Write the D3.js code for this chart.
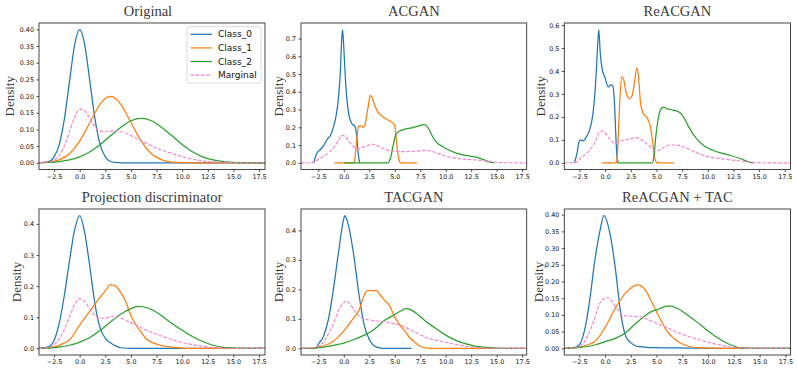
<!DOCTYPE html>
<html>
<head>
<meta charset="utf-8">
<script src="https://cdn.jsdelivr.net/npm/d3@7/dist/d3.min.js"></script>
<style>
  html, body { margin: 0; padding: 0; background: #fff; }
  svg { display: block; }
</style>
</head>
<body>
<svg id="chart" width="797" height="372"></svg>
<script>
// ---------------- DATA ----------------
const panelTitles = ["Original", "ACGAN", "ReACGAN", "Projection discriminator", "TACGAN", "ReACGAN + TAC"];
const seriesNames = ["Class_0", "Class_1", "Class_2", "Marginal"];
const xTickValues = [-2.5, 0, 2.5, 5, 7.5, 10, 12.5, 15, 17.5];
const yTicksOriginal = [0, 0.05, 0.10, 0.15, 0.20, 0.25, 0.30, 0.35, 0.40];
const yTicksACGAN = [0, 0.1, 0.2, 0.3, 0.4, 0.5, 0.6, 0.7];
const yTicksReACGAN = [0, 0.1, 0.2, 0.3, 0.4, 0.5, 0.6];
const yTicksProjection = [0, 0.1, 0.2, 0.3, 0.4];
const yTicksTACGAN = [0, 0.1, 0.2, 0.3, 0.4];
const yTicksReACGANTAC = [0, 0.05, 0.10, 0.15, 0.20, 0.25, 0.30, 0.35, 0.40];

// Original
const original_class0 = [[-3.95,0.0002],[-3,0.004],[-2.5,0.018],[-2,0.054],[-1.5,0.13],[-1,0.242],[-0.5,0.352],[0,0.399],[0.5,0.352],[1,0.242],[1.5,0.13],[2,0.054],[2.5,0.018],[3,0.004],[3.5,0.001],[4,0],[18.1,0]];
const original_class1 = [[-3.95,0.0005],[-3,0.0022],[-2,0.0088],[-1,0.027],[0,0.065],[0.5,0.092],[1,0.121],[1.5,0.15],[2,0.176],[2.5,0.193],[3,0.1995],[3.5,0.193],[4,0.176],[4.5,0.15],[5,0.121],[5.5,0.092],[6,0.065],[7,0.027],[8,0.0088],[9,0.0022],[10,0.0004],[11,0],[18.1,0]];
const original_class2 = [[-3.95,0.0005],[-3,0.0015],[-2,0.0038],[-1,0.0087],[0,0.018],[1,0.033],[2,0.055],[3,0.081],[4,0.106],[5,0.126],[6,0.133],[7,0.126],[8,0.106],[9,0.081],[10,0.055],[11,0.033],[12,0.018],[13,0.0087],[14,0.0038],[15,0.0015],[16,0.0005],[18.1,0]];
const original_marginal = [[-3.95,0.0005],[-3,0.0027],[-2.5,0.0082],[-2,0.022],[-1.5,0.05],[-1,0.093],[-0.5,0.136],[0,0.161],[0.5,0.156],[1,0.132],[1.5,0.108],[2,0.095],[2.5,0.093],[3,0.095],[3.5,0.096],[4,0.094],[5,0.082],[6,0.066],[7,0.051],[8,0.038],[9,0.028],[10,0.0185],[11,0.011],[12,0.006],[13,0.0029],[14,0.0013],[15,0.0005],[16,0.0002],[18.1,0]];

// ACGAN
const acgan_class0 = [[-2.95,0],[-2.8,0.03],[-2.6,0.058],[-2.3,0.075],[-2,0.095],[-1.6,0.135],[-1.3,0.155],[-1.0,0.205],[-0.8,0.25],[-0.5,0.38],[-0.35,0.5],[-0.2,0.7],[-0.12,0.75],[0,0.65],[0.15,0.48],[0.3,0.36],[0.5,0.27],[0.8,0.22],[1.1,0.205],[1.25,0.16],[1.4,0.06],[1.55,0.005],[1.6,0]];
const acgan_class1 = [[-0.93,0],[1.0,0],[1.1,0.03],[1.25,0.12],[1.45,0.205],[1.6,0.21],[1.9,0.2],[2.1,0.22],[2.4,0.32],[2.6,0.38],[2.75,0.37],[3.0,0.33],[3.3,0.29],[3.7,0.265],[4.3,0.243],[4.8,0.225],[5.0,0.21],[5.2,0.1],[5.4,0.02],[5.6,0],[7.2,0]];
const acgan_class2 = [[0,0],[4.3,0],[4.6,0.03],[4.85,0.1],[5.05,0.15],[5.3,0.172],[5.8,0.186],[6.5,0.195],[7.2,0.205],[7.9,0.215],[8.3,0.195],[8.7,0.15],[9.1,0.115],[9.6,0.095],[10.2,0.075],[10.9,0.058],[11.7,0.045],[12.4,0.038],[13,0.032],[13.7,0.018],[14.3,0.005],[14.8,0]];
const acgan_marginal = [[-4.2,0],[-3.2,0.001],[-2.9,0.004],[-2.5,0.02],[-2,0.036],[-1.5,0.058],[-1,0.085],[-0.6,0.12],[-0.2,0.155],[0.1,0.15],[0.5,0.12],[1,0.088],[1.4,0.08],[2,0.09],[2.8,0.105],[3.5,0.09],[4.2,0.073],[5,0.065],[6,0.063],[7,0.065],[8,0.07],[8.6,0.065],[9.3,0.052],[10,0.038],[11,0.026],[12,0.02],[13,0.016],[14,0.01],[15,0.003],[16,0.0005],[17.95,0]];

// ReACGAN
const reacgan_class0 = [[-3,0],[-2.75,0.04],[-2.55,0.09],[-2.4,0.1],[-2.15,0.096],[-1.8,0.115],[-1.5,0.145],[-1.2,0.21],[-0.95,0.33],[-0.78,0.47],[-0.62,0.58],[-0.48,0.48],[-0.3,0.41],[0,0.37],[0.3,0.33],[0.55,0.34],[0.75,0.335],[0.92,0.25],[1.05,0.11],[1.18,0.015],[1.3,0]];
const reacgan_class1 = [[-0.3,0],[1.1,0],[1.2,0.04],[1.3,0.14],[1.45,0.29],[1.63,0.376],[1.82,0.36],[2.05,0.305],[2.35,0.28],[2.6,0.29],[2.86,0.35],[3.09,0.413],[3.25,0.375],[3.45,0.26],[3.7,0.216],[4.1,0.195],[4.4,0.16],[4.6,0.1],[4.8,0.03],[5.0,0.002],[5.2,0],[6.7,0]];
const reacgan_class2 = [[1.2,0],[4.6,0],[4.75,0.028],[4.95,0.12],[5.2,0.2],[5.45,0.235],[5.7,0.243],[6,0.236],[6.6,0.23],[7.3,0.218],[7.7,0.195],[8.1,0.16],[8.9,0.105],[9.7,0.072],[10.5,0.055],[11.35,0.042],[12.2,0.032],[13,0.021],[13.6,0.011],[14.1,0.002],[14.5,0]];
const reacgan_marginal = [[-4,0],[-3,0.001],[-2.7,0.006],[-2.4,0.02],[-2,0.035],[-1.5,0.055],[-1,0.09],[-0.6,0.13],[-0.35,0.14],[0,0.13],[0.5,0.1],[1,0.085],[1.5,0.095],[2,0.1],[2.5,0.105],[3,0.11],[3.5,0.102],[4,0.085],[4.5,0.066],[5,0.052],[5.5,0.062],[6,0.075],[6.5,0.078],[7,0.077],[7.5,0.072],[8,0.062],[9,0.042],[10,0.027],[11,0.019],[12,0.014],[13,0.009],[14,0.004],[15,0.001],[16,0],[18.05,0]];

// Projection discriminator
const proj_class0 = [[-3.95,0.0005],[-3,0.006],[-2.5,0.025],[-2,0.08],[-1.5,0.17],[-1,0.28],[-0.5,0.38],[0,0.427],[0.5,0.37],[1,0.26],[1.5,0.14],[2,0.065],[2.5,0.032],[3,0.018],[3.5,0.008],[4,0.002],[5,0],[18.05,0]];
const proj_class1 = [[-3.95,0],[-3,0.002],[-2.5,0.005],[-1.5,0.017],[-1,0.027],[0,0.075],[1,0.12],[2,0.165],[2.5,0.185],[3,0.205],[3.5,0.2],[4,0.18],[4.5,0.15],[5,0.105],[5.5,0.075],[6,0.052],[6.5,0.03],[7,0.02],[8,0.009],[9,0.004],[10,0.001],[11,0],[18.05,0]];
const proj_class2 = [[-3.95,0],[-3,0.001],[-2,0.004],[-1,0.01],[0,0.02],[1,0.035],[2,0.058],[3,0.085],[4,0.11],[5,0.128],[5.7,0.135],[6.3,0.133],[7,0.125],[8,0.105],[9,0.08],[10,0.058],[11,0.038],[12,0.022],[13,0.01],[14,0.003],[15,0.001],[16,0],[18.05,0]];
const proj_marginal = [[-3.95,0],[-3,0.003],[-2.5,0.012],[-2,0.03],[-1.5,0.06],[-1,0.1],[-0.5,0.14],[0,0.16],[0.5,0.15],[1,0.125],[1.5,0.105],[2,0.097],[2.5,0.097],[3,0.102],[3.5,0.104],[4,0.098],[5,0.083],[6,0.066],[7,0.052],[8,0.039],[9,0.028],[10,0.019],[11,0.012],[12,0.007],[13,0.003],[14,0.001],[15,0],[18.05,0]];

// TACGAN
const tac_class0 = [[-2.7,0],[-2.5,0.014],[-2,0.04],[-1.5,0.1],[-1,0.205],[-0.5,0.33],[0,0.44],[0.1,0.45],[0.5,0.41],[1,0.31],[1.5,0.18],[2,0.08],[2.5,0.03],[3,0.008],[3.5,0.002],[4,0],[6.65,0]];
const tac_class1 = [[-4.2,0],[-3,0.001],[-2.5,0.004],[-1.5,0.015],[-1,0.025],[0,0.059],[1,0.105],[1.5,0.13],[2,0.18],[2.3,0.196],[3.2,0.196],[3.6,0.18],[4,0.163],[4.5,0.145],[5,0.105],[5.5,0.08],[6,0.058],[6.5,0.035],[7,0.02],[7.5,0.007],[8,0.002],[9,0],[17.95,0]];
const tac_class2 = [[-4.2,0],[-3,0.001],[-2,0.004],[-1,0.01],[0,0.018],[1,0.03],[2,0.045],[3,0.065],[4,0.095],[4.5,0.105],[5,0.115],[5.5,0.125],[6.1,0.135],[6.5,0.132],[7,0.122],[8,0.093],[9,0.068],[10,0.045],[11,0.027],[12,0.015],[13,0.007],[14,0.003],[15,0.001],[16,0],[17.95,0]];
const tac_marginal = [[-4.2,0],[-3,0.002],[-2.5,0.008],[-2,0.02],[-1.5,0.05],[-1,0.085],[-0.5,0.13],[0,0.155],[0.2,0.16],[0.5,0.155],[1,0.13],[1.5,0.11],[2,0.1],[3,0.094],[4,0.09],[5,0.083],[6,0.072],[7,0.055],[8,0.038],[9,0.028],[10,0.021],[11,0.013],[12,0.007],[13,0.003],[14,0.001],[15,0],[17.95,0]];

// ReACGAN + TAC
const rtac_class0 = [[-3.95,0],[-3,0.002],[-2.5,0.01],[-2,0.052],[-1.5,0.14],[-1,0.26],[-0.5,0.35],[-0.1,0.397],[0.5,0.34],[1,0.24],[1.5,0.11],[2,0.037],[2.5,0.017],[3,0.007],[3.5,0.005],[4,0.003],[5,0.002],[8,0.001],[12,0],[18.05,0]];
const rtac_class1 = [[-3.95,0],[-2.5,0.003],[-1.5,0.013],[-1,0.02],[0,0.062],[1,0.12],[2,0.166],[2.5,0.18],[3.1,0.19],[3.5,0.187],[4,0.171],[4.5,0.14],[5,0.11],[5.5,0.08],[6,0.052],[6.5,0.035],[7,0.022],[8,0.007],[9,0.002],[10,0.001],[13,0],[18.05,0]];
const rtac_class2 = [[-3.95,0],[-2.5,0.003],[-1,0.01],[0,0.02],[1,0.03],[2,0.047],[3,0.075],[4,0.1],[4.5,0.11],[5,0.115],[6.2,0.127],[7,0.12],[8,0.1],[9,0.077],[10,0.052],[11,0.03],[12,0.013],[12.5,0.007],[13,0.002],[14,0],[18.05,0]];
const rtac_marginal = [[-3.95,0],[-3,0.001],[-2.5,0.005],[-2,0.02],[-1.5,0.05],[-1,0.09],[-0.5,0.135],[0,0.15],[0.2,0.153],[0.5,0.148],[1,0.125],[1.5,0.105],[2,0.097],[3,0.095],[3.5,0.094],[4,0.088],[5,0.075],[6,0.062],[7,0.048],[8,0.037],[9,0.027],[10,0.018],[11,0.011],[12,0.005],[13,0.002],[14,0],[18.05,0]];

// ---------------- LAYOUT / STYLE ----------------
const colors = ["#1f77b4", "#ff7f0e", "#2ca02c", "#f57fca"];
const panels = [
  { title: panelTitles[0], series: [original_class0, original_class1, original_class2, original_marginal], yTicks: yTicksOriginal, fmt: ".2f",
    box: [39, 23, 265, 169.5], xDom: [-3.97, 18.08], yDom: [-0.02, 0.419], titleX: 148, ylabX: 9.5, legend: true },
  { title: panelTitles[1], series: [acgan_class0, acgan_class1, acgan_class2, acgan_marginal], yTicks: yTicksACGAN, fmt: ".1f",
    box: [301, 23, 526.7, 169.5], xDom: [-4.2, 17.95], yDom: [-0.0375, 0.7875], ylabX: 278 },
  { title: panelTitles[2], series: [reacgan_class0, reacgan_class1, reacgan_class2, reacgan_marginal], yTicks: yTicksReACGAN, fmt: ".1f",
    box: [564.3, 23, 790.5, 169.5], xDom: [-3.98, 18.06], yDom: [-0.029, 0.609], ylabX: 540 },
  { title: panelTitles[3], series: [proj_class0, proj_class1, proj_class2, proj_marginal], yTicks: yTicksProjection, fmt: ".1f",
    box: [39, 209, 265, 355], xDom: [-3.97, 18.08], yDom: [-0.0213, 0.448], ylabX: 16 },
  { title: panelTitles[4], series: [tac_class0, tac_class1, tac_class2, tac_marginal], yTicks: yTicksTACGAN, fmt: ".1f",
    box: [301, 209, 526.7, 355], xDom: [-4.2, 17.95], yDom: [-0.0225, 0.4725], ylabX: 278.5 },
  { title: panelTitles[5], series: [rtac_class0, rtac_class1, rtac_class2, rtac_marginal], yTicks: yTicksReACGANTAC, fmt: ".2f",
    box: [564.3, 209, 790.5, 355], xDom: [-3.95, 18.0], yDom: [-0.0199, 0.417], ylabX: 538 }
];

const svg = d3.select("#chart");
const defs = svg.append("defs");

panels.forEach((p, i) => {
  const [x0, y0, x1, y1] = p.box;
  const x = d3.scaleLinear().domain(p.xDom).range([x0, x1]);
  const y = d3.scaleLinear().domain(p.yDom).range([y1, y0]);
  const g = svg.append("g");

  defs.append("clipPath").attr("id", "clip" + i)
    .append("rect").attr("x", x0).attr("y", y0).attr("width", x1 - x0).attr("height", y1 - y0);

  const line = d3.line().x(d => x(d[0])).y(d => y(d[1])).curve(d3.curveMonotoneX);
  const lg = g.append("g").attr("clip-path", `url(#clip${i})`);
  p.series.forEach((s, k) => {
    lg.append("path").datum(s)
      .attr("d", line)
      .attr("fill", "none")
      .attr("stroke", colors[k])
      .attr("stroke-width", k === 3 ? 1.1 : 1.25)
      .attr("stroke-dasharray", k === 3 ? "3.6,1.6" : null)
      .attr("stroke-linejoin", "round");
  });

  // axes
  const xAxis = d3.axisBottom(x).tickValues(xTickValues).tickSize(2.5).tickPadding(2)
    .tickFormat(d => d3.format(".1f")(d).replace("-", "\u2212"));
  const yAxis = d3.axisLeft(y).tickValues(p.yTicks).tickSize(2.5).tickPadding(2.5)
    .tickFormat(d3.format(p.fmt));
  const gx = g.append("g").attr("transform", `translate(0,${y1})`).call(xAxis);
  const gy = g.append("g").attr("transform", `translate(${x0},0)`).call(yAxis);
  [gx, gy].forEach(ax => {
    ax.select(".domain").remove();
    ax.selectAll(".tick line").attr("stroke", "#222").attr("stroke-width", 0.8);
    ax.selectAll(".tick text").attr("fill", "#111")
      .style("font-family", "DejaVu Sans, sans-serif").style("font-size", "6.4px");
  });

  // frame
  g.append("rect").attr("x", x0).attr("y", y0).attr("width", x1 - x0).attr("height", y1 - y0)
    .attr("fill", "none").attr("stroke", "#333").attr("stroke-width", 0.9);

  // title
  g.append("text")
    .attr("x", p.titleX !== undefined ? p.titleX : (x0 + x1) / 2)
    .attr("y", y0 - 7.5)
    .attr("text-anchor", "middle")
    .style("font-family", "Liberation Serif, serif")
    .style("font-size", "14.5px")
    .style("font-weight", "normal")
    .attr("fill", "#3a3a3a")
    .text(p.title);

  // y label
  g.append("text")
    .attr("transform", `translate(${p.ylabX},${(y0 + y1) / 2}) rotate(-90)`)
    .attr("text-anchor", "middle")
    .attr("dominant-baseline", "central")
    .style("font-family", "Liberation Serif, serif")
    .style("font-size", "13px")
    .style("font-weight", "normal")
    .attr("fill", "#3a3a3a")
    .text("Density");

  if (p.legend) {
    const lx = 187, ly = 26.7, lw = 74, lh = 56.3;
    const leg = g.append("g");
    leg.append("rect").attr("x", lx).attr("y", ly).attr("width", lw).attr("height", lh)
      .attr("rx", 2).attr("fill", "#fff").attr("fill-opacity", 0.85)
      .attr("stroke", "#d0d0d0").attr("stroke-width", 0.8);
    seriesNames.forEach((name, k) => {
      const yy = ly + 7.6 + k * 13.6;
      leg.append("line").attr("x1", lx + 3.5).attr("x2", lx + 25).attr("y1", yy).attr("y2", yy)
        .attr("stroke", colors[k]).attr("stroke-width", 1.25)
        .attr("stroke-dasharray", k === 3 ? "3.6,1.6" : null);
      leg.append("text").attr("x", lx + 31).attr("y", yy)
        .attr("dominant-baseline", "central")
        .style("font-family", "DejaVu Sans, sans-serif").style("font-size", "9px")
        .attr("fill", "#111").text(name);
    });
  }
});
</script>
</body>
</html>
